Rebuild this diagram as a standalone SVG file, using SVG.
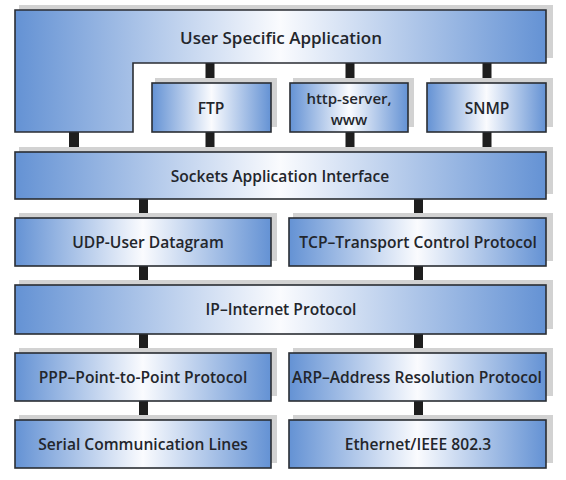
<svg xmlns="http://www.w3.org/2000/svg" width="566" height="480" viewBox="0 0 566 480">
<defs>
<linearGradient id="g" x1="0" y1="0" x2="1" y2="0">
<stop offset="0" stop-color="#6492d4"/>
<stop offset="0.5" stop-color="#fafbfe"/>
<stop offset="1" stop-color="#6492d4"/>
</linearGradient>
<linearGradient id="gt" x1="15" y1="0" x2="546" y2="0" gradientUnits="userSpaceOnUse">
<stop offset="0" stop-color="#6492d4"/>
<stop offset="0.5" stop-color="#fafbfe"/>
<stop offset="1" stop-color="#6492d4"/>
</linearGradient>
</defs>
<style>
.box{fill:url(#g);stroke:#2a2d33;stroke-width:1.6}
.sh{fill:#d2d2d2}
.bar{fill:#1e1e1e}
text{font-family:"Open Sans","Liberation Sans",sans-serif;font-size:15.6px;font-weight:600;fill:#23262c;text-anchor:middle;dominant-baseline:central}
.title{font-size:17px}
.small{font-size:15px}
</style>
<rect width="566" height="480" fill="#ffffff"/>
<g id="connectors">
<rect class="bar" x="205.5" y="63" width="9" height="20"/>
<rect class="bar" x="345.5" y="63" width="9" height="20"/>
<rect class="bar" x="482.5" y="63" width="9" height="20"/>
<rect class="bar" x="69" y="132" width="10" height="20"/>
<rect class="bar" x="205.5" y="132" width="9" height="20"/>
<rect class="bar" x="345.5" y="132" width="9" height="20"/>
<rect class="bar" x="482.5" y="132" width="9" height="20"/>
<rect class="bar" x="139" y="199" width="9" height="19"/>
<rect class="bar" x="414" y="199" width="9" height="19"/>
<rect class="bar" x="139" y="266" width="9" height="19"/>
<rect class="bar" x="414" y="266" width="9" height="19"/>
<rect class="bar" x="139" y="334" width="9" height="19"/>
<rect class="bar" x="414" y="334" width="9" height="19"/>
<rect class="bar" x="139" y="401" width="9" height="19"/>
<rect class="bar" x="414" y="401" width="9" height="19"/>
</g>
<g id="user-app">
<path class="sh" d="M19 5 H553 V58 H546 V10 H19 Z"/>
<path d="M15 10 H546 V63 H133 V132 H15 Z" fill="url(#gt)" stroke="#2a2d33" stroke-width="1.6"/>
<text class="title" x="281" y="37">User Specific Application</text>
</g>
<g id="ftp">
<rect class="sh" x="155" y="78" width="122" height="49"/>
<rect class="box" x="152" y="83" width="119" height="49"/>
<text x="211" y="108">FTP</text>
</g>
<g id="http">
<rect class="sh" x="293" y="78" width="121" height="49"/>
<rect class="box" x="290" y="83" width="118" height="49"/>
<text class="small" x="349" y="98">http-server,</text>
<text class="small" x="349" y="119">www</text>
</g>
<g id="snmp">
<rect class="sh" x="430" y="78" width="123" height="49"/>
<rect class="box" x="427" y="83" width="119" height="49"/>
<text x="487" y="108">SNMP</text>
</g>
<g id="sockets">
<rect class="sh" x="19" y="147" width="534" height="47"/>
<rect class="box" x="15" y="152" width="531" height="47"/>
<text x="280" y="176">Sockets Application Interface</text>
</g>
<g id="udp">
<rect class="sh" x="19" y="213" width="258" height="48"/>
<rect class="box" x="15" y="218" width="256" height="48"/>
<text x="148" y="242">UDP-User Datagram</text>
</g>
<g id="tcp">
<rect class="sh" x="293" y="213" width="260" height="48"/>
<rect class="box" x="289" y="218" width="257" height="48"/>
<text x="418" y="242">TCP–Transport Control Protocol</text>
</g>
<g id="ip">
<rect class="sh" x="19" y="280" width="534" height="49"/>
<rect class="box" x="15" y="285" width="531" height="49"/>
<text x="281" y="309">IP–Internet Protocol</text>
</g>
<g id="ppp">
<rect class="sh" x="19" y="348" width="258" height="48"/>
<rect class="box" x="15" y="353" width="256" height="48"/>
<text x="143" y="377">PPP–Point-to-Point Protocol</text>
</g>
<g id="arp">
<rect class="sh" x="293" y="348" width="260" height="48"/>
<rect class="box" x="289" y="353" width="257" height="48"/>
<text x="417" y="377">ARP–Address Resolution Protocol</text>
</g>
<g id="serial">
<rect class="sh" x="19" y="415" width="258" height="48"/>
<rect class="box" x="15" y="420" width="256" height="48"/>
<text x="143" y="444">Serial Communication Lines</text>
</g>
<g id="ethernet">
<rect class="sh" x="293" y="415" width="260" height="48"/>
<rect class="box" x="289" y="420" width="257" height="48"/>
<text x="418" y="444">Ethernet/IEEE 802.3</text>
</g>
</svg>
